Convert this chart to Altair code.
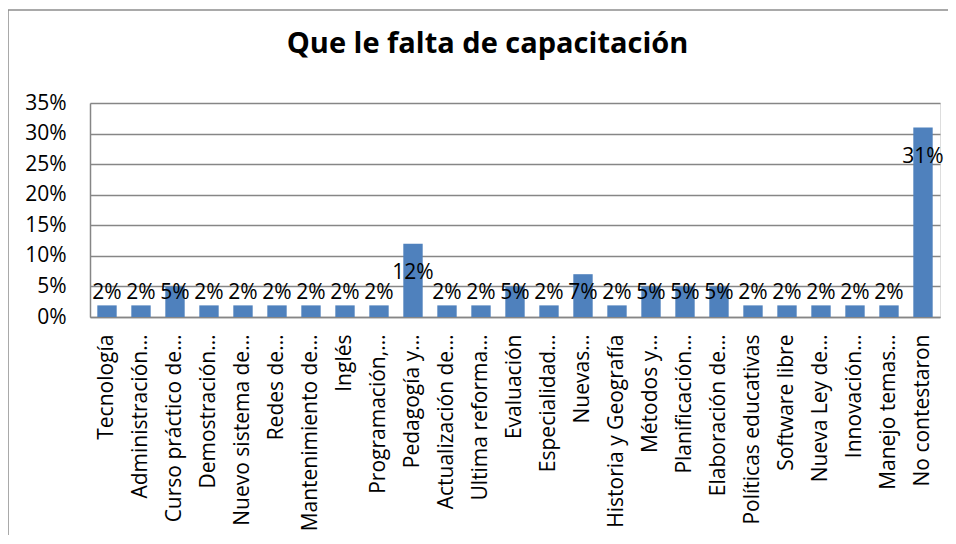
import altair as alt
import pandas as pd

title_text = "Que le falta de capacitación"
categories = [
    "Tecnología", "Administración…", "Curso práctico de…", "Demostración…",
    "Nuevo sistema de…", "Redes de…", "Mantenimiento de…", "Inglés",
    "Programación,…", "Pedagogía y…", "Actualización de…", "Ultima reforma…",
    "Evaluación", "Especialidad…", "Nuevas…", "Historia y Geografía",
    "Métodos y…", "Planificación…", "Elaboración de…", "Políticas educativas",
    "Software libre", "Nueva Ley de…", "Innovación…", "Manejo temas…",
    "No contestaron",
]
values = [
    0.019, 0.019, 0.05, 0.019, 0.019, 0.019, 0.019, 0.019, 0.019, 0.12,
    0.019, 0.019, 0.05, 0.019, 0.07, 0.019, 0.05, 0.05, 0.05, 0.019,
    0.019, 0.019, 0.019, 0.019, 0.31,
]
y_ticks = [0, 0.05, 0.10, 0.15, 0.20, 0.25, 0.30, 0.35]

df = pd.DataFrame({"cat": categories, "val": values})

FONT = "Open Sans"
GRID = "#868686"

x_axis = alt.Axis(labelAngle=-90, labelAlign="right", labelBaseline="middle",
                  labelPadding=17, ticks=False, domainColor=GRID, domainWidth=1.5,
                  labelFont=FONT, labelFontSize=21, labelColor="black",
                  labelLimit=400, labelOverlap=False, title=None)
y_axis = alt.Axis(values=y_ticks, format=".0%", ticks=False,
                  labelPadding=24, domainColor=GRID, domainWidth=1.5,
                  gridColor=GRID, gridWidth=1.3, labelOverlap=False,
                  labelFont=FONT, labelFontSize=21, labelColor="black", title=None)
x_scale = alt.Scale(paddingInner=0.43, paddingOuter=0.215)
y_scale = alt.Scale(domain=[0, 0.35], nice=False)

bars = alt.Chart(df).mark_bar(color="#4F81BD").encode(
    x=alt.X("cat:N", sort=categories, scale=x_scale, axis=x_axis),
    y=alt.Y("val:Q", scale=y_scale, axis=y_axis),
)

labels = alt.Chart(df).transform_calculate(
    pos="max(datum.val - 0.0475, 0.0388)"
).mark_text(font=FONT, fontSize=21, color="black", baseline="middle").encode(
    x=alt.X("cat:N", sort=categories, scale=x_scale, axis=x_axis),
    y=alt.Y("pos:Q", scale=y_scale, axis=y_axis),
    text=alt.Text("val:Q", format=".0%"),
)

one = pd.DataFrame({"t": [title_text]})

title = alt.Chart(one).mark_text(
    font=FONT, fontSize=29, fontWeight="bold", color="black",
    align="center", baseline="alphabetic",
).encode(x=alt.value(397.5), y=alt.value(-50), text="t:N")

frame_left = alt.Chart(one).mark_rule(color="#8c8c8c", strokeWidth=1.5).encode(
    x=alt.value(-82), y=alt.value(-93), y2=alt.value(800)
)
frame_top = alt.Chart(one).mark_rule(color="#8c8c8c", strokeWidth=1.5).encode(
    x=alt.value(-82), x2=alt.value(1200), y=alt.value(-93)
)

chart = alt.layer(frame_left, frame_top, bars, labels, title).properties(
    width=850, height=214,
    autosize=alt.AutoSizeParams(type="none"),
    padding={"left": 82, "top": 95, "right": 8, "bottom": 218},
).configure_view(stroke=None).configure(background="white")

chart.save("out.html", embed_options={"renderer": "svg", "actions": False})
